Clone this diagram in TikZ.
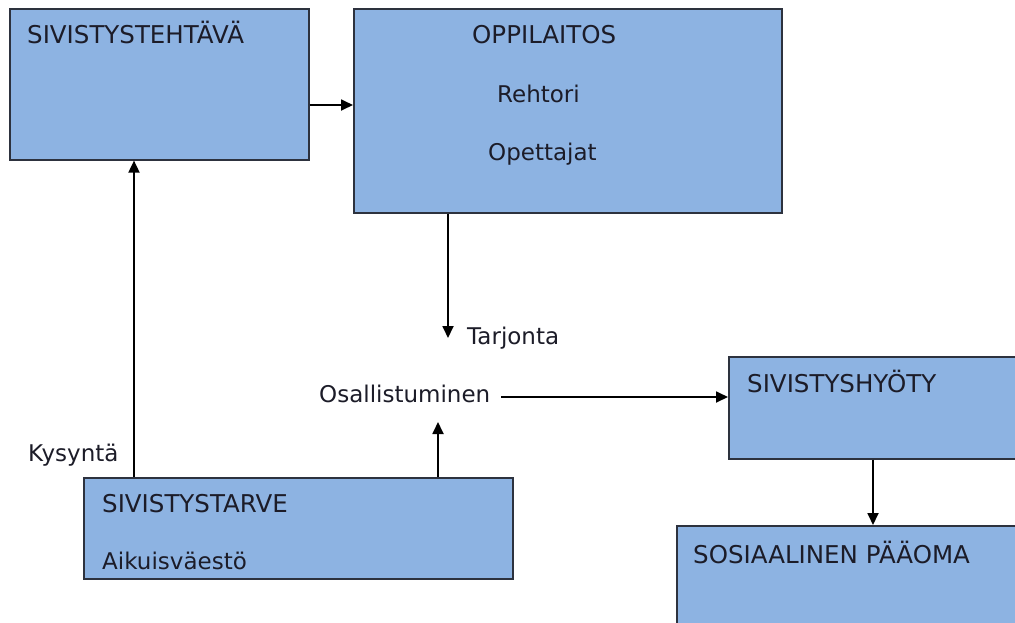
\documentclass[tikz,border=0pt]{standalone}
\usepackage{fontspec}
\setmainfont{DejaVu Sans}
\usetikzlibrary{arrows.meta}
\definecolor{boxfill}{RGB}{141,179,226}
\definecolor{boxline}{RGB}{45,50,62}
\definecolor{txt}{RGB}{28,28,40}
\tikzset{
  box/.style={draw=boxline, fill=boxfill, line width=1.6pt, anchor=north west, inner sep=0pt},
  lbl/.style={anchor=base west, inner sep=0pt, text=txt, font=\fontsize{23pt}{27pt}\selectfont},
  titlelbl/.style={lbl, font=\fontsize{24.5pt}{28pt}\selectfont},
  arr/.style={draw=black, line width=1.8pt, -{Triangle[length=12pt,width=11pt]}},
}
\begin{document}
\begin{tikzpicture}[x=1pt,y=-1pt]
\clip (0,0) rectangle (1015,622);
\fill[white] (0,0) rectangle (1015,622);
% boxes
\node[box, minimum width=299pt, minimum height=151pt] (b1) at (9,8) {};
\node[box, minimum width=428pt, minimum height=204pt] (b2) at (353,8) {};
\node[box, minimum width=330pt, minimum height=102pt] (b3) at (728,356) {};
\node[box, minimum width=380pt, minimum height=130pt] (b4) at (676,525) {};
\node[box, minimum width=429pt, minimum height=101pt] (b5) at (83,477) {};
% texts
\node[titlelbl] (t1) at (27,43) {SIVISTYSTEHTÄVÄ};
\node[titlelbl] (t2) at (472,43) {OPPILAITOS};
\node[lbl] (t2a) at (497,102) {Rehtori};
\node[lbl] (t2b) at (488,160) {Opettajat};
\node[lbl] (tarj) at (467,344) {Tarjonta};
\node[lbl] (osal) at (319,402) {Osallistuminen};
\node[titlelbl] (t3) at (747,392) {SIVISTYSHYÖTY};
\node[titlelbl] (t4) at (693,563) {SOSIAALINEN PÄÄOMA};
\node[lbl] (kys) at (28,461) {Kysyntä};
\node[titlelbl] (t5) at (102,512) {SIVISTYSTARVE};
\node[lbl] (t5a) at (102,569) {Aikuisväestö};
% free arrow ends
\coordinate (tarjtip) at (448,338);
\coordinate (osaltip) at (438,422);
\coordinate (osalstart) at (501,397);
% connectors
\draw[arr] (b1.east |- 0,105) -- (b2.west |- 0,105);
\draw[arr] (b5.north -| 134,0) -- (b1.south -| 134,0);
\draw[arr] (b2.south -| tarjtip) -- (tarjtip);
\draw[arr] (b5.north -| osaltip) -- (osaltip);
\draw[arr] (osalstart) -- (b3.west |- osalstart);
\draw[arr] (b3.south -| 873,0) -- (b4.north -| 873,0);
\end{tikzpicture}
\end{document}
